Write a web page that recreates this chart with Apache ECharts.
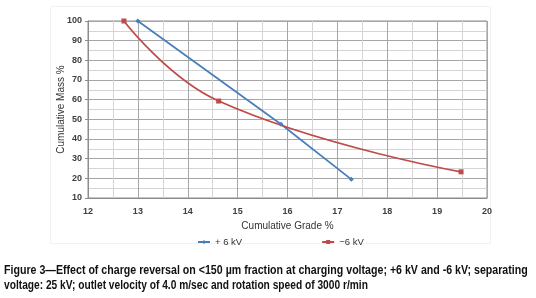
<!DOCTYPE html>
<html><head><meta charset="utf-8">
<script src="https://cdn.jsdelivr.net/npm/echarts@6/dist/echarts.min.js"></script>
<style>html,body{margin:0;padding:0;background:#fff}#c{width:536px;height:298px}</style>
</head><body><div id="c"></div>
<script>
const seriesNames = ['+ 6 kV', '\u22126 kV'];
const plusGrade = [13.0, 15.87, 17.28];
const plusMass = [100, 47.5, 19.5];
const minusGrade = [12.72, 14.62, 19.48];
const minusMass = [100, 59.3, 23.3];
const xTitle = 'Cumulative Grade %';
const yTitle = 'Cumulative Mass %';
const caption1 = 'Figure 3\u2014Effect of charge reversal on <150 \u00b5m fraction at charging voltage; +6 kV and -6 kV; separating';
const caption2 = 'voltage: 25 kV; outlet velocity of 4.0 m/sec and rotation speed of 3000 r/min';

const chart = echarts.init(document.getElementById('c'), null, {renderer: 'canvas'});
const lab = {color: '#404040', fontSize: 9, fontWeight: 'bold', fontFamily: 'Liberation Sans'};
chart.setOption({
  animation: false,
  backgroundColor: '#fff',
  grid: {left: 88, right: 49, top: 21, bottom: 100, show: true, borderColor: '#8c8c8c', borderWidth: 1},
  xAxis: {
    type: 'value', min: 12, max: 20, interval: 1,
    name: xTitle, nameLocation: 'middle', nameGap: 23, nameMoveOverlap: false,
    nameTextStyle: {color: '#333', fontSize: 10, fontFamily: 'Liberation Sans'},
    axisLine: {show: true, lineStyle: {color: '#8c8c8c'}},
    axisTick: {show: false},
    axisLabel: Object.assign({margin: 9}, lab),
    splitLine: {show: true, lineStyle: {color: '#a6a6a6', width: 1}},
    minorTick: {show: false, splitNumber: 2},
    minorSplitLine: {show: true, lineStyle: {color: '#d4d4d4', width: 1}}
  },
  yAxis: {
    type: 'value', min: 10, max: 100, interval: 10,
    name: yTitle, nameLocation: 'middle', nameGap: 22, nameRotate: 90, nameMoveOverlap: false,
    nameTextStyle: {color: '#333', fontSize: 10, fontFamily: 'Liberation Sans'},
    axisLine: {show: true, lineStyle: {color: '#8c8c8c'}},
    axisTick: {show: true, length: 3, lineStyle: {color: '#8c8c8c'}},
    axisLabel: Object.assign({margin: 6}, lab),
    splitLine: {show: true, lineStyle: {color: '#a6a6a6', width: 1}},
    minorTick: {show: false, splitNumber: 2},
    minorSplitLine: {show: true, lineStyle: {color: '#d4d4d4', width: 1}}
  },
  legend: {
    left: 192, top: 232, itemGap: 79, itemWidth: 12, itemHeight: 5,
    textStyle: {color: '#333', fontSize: 9.5, fontFamily: 'Liberation Sans'},
    data: seriesNames
  },
  series: [
    {name: seriesNames[0], type: 'line', data: plusGrade.map((g, i) => [g, plusMass[i]]),
     symbol: 'diamond', symbolSize: 5, showAllSymbol: true,
     itemStyle: {color: '#4a7ebb'}, lineStyle: {color: '#4a7ebb', width: 1.75}},
    {name: seriesNames[1], type: 'line', smooth: 0.45, data: minusGrade.map((g, i) => [g, minusMass[i]]),
     symbol: 'rect', symbolSize: 5, showAllSymbol: true,
     itemStyle: {color: '#be4b48'}, lineStyle: {color: '#be4b48', width: 1.75}}
  ],
  graphic: [
    {type: 'rect', shape: {x: 50.5, y: 6.5, width: 440, height: 237}, style: {fill: 'none', stroke: '#f2f2f2', lineWidth: 1}, silent: true},
    {type: 'text', x: 4, y: 265, scaleX: 0.885, style: {text: caption1, fill: '#111', font: 'bold 12px "Liberation Sans"'}},
    {type: 'text', x: 4, y: 280, scaleX: 0.85, style: {text: caption2, fill: '#111', font: 'bold 12px "Liberation Sans"'}}
  ]
});
</script>
</body></html>
